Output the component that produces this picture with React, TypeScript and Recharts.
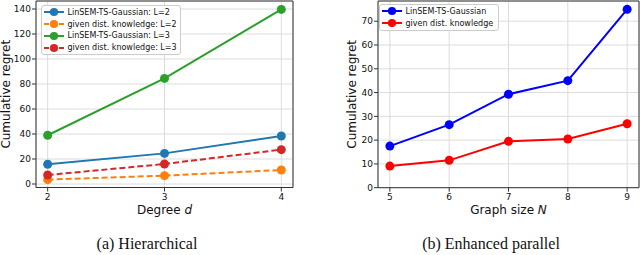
import {
  LineChart,
  Line,
  XAxis,
  YAxis,
  CartesianGrid,
  Legend,
  Label,
  ReferenceArea,
} from "recharts";

// (a) Hierarchical
const degrees = [2, 3, 4];
const linsemL2 = [15.8, 24.5, 38.4];
const givenL2 = [3.5, 6.7, 11.2];
const linsemL3 = [39, 84.5, 139.7];
const givenL3 = [7.2, 16, 27.5];
const leftYTicks = [0, 20, 40, 60, 80, 100, 120, 140];

// (b) Enhanced parallel
const graphSizes = [5, 6, 7, 8, 9];
const linsemParallel = [17.5, 26.5, 39.3, 45, 75];
const givenParallel = [9.1, 11.5, 19.5, 20.5, 26.9];
const rightYTicks = [0, 10, 20, 30, 40, 50, 60, 70];

const FONT = "DejaVu Sans, sans-serif";
const GRID = "#dcdcdc";
const FRAME = "#333";

type Series = { key: string; name: string; color: string; dashed: boolean };

const leftSeries: Series[] = [
  { key: "linsemL2", name: "LinSEM-TS-Gaussian: L=2", color: "#1f77b4", dashed: false },
  { key: "givenL2", name: "given dist. knowledge: L=2", color: "#ff7f0e", dashed: true },
  { key: "linsemL3", name: "LinSEM-TS-Gaussian: L=3", color: "#2ca02c", dashed: false },
  { key: "givenL3", name: "given dist. knowledge: L=3", color: "#d62728", dashed: true },
];

const rightSeries: Series[] = [
  { key: "linsem", name: "LinSEM-TS-Gaussian", color: "#0000ff", dashed: false },
  { key: "given", name: "given dist. knowledge", color: "#ff0000", dashed: false },
];

const leftData = degrees.map((d, i) => ({
  x: d,
  linsemL2: linsemL2[i],
  givenL2: givenL2[i],
  linsemL3: linsemL3[i],
  givenL3: givenL3[i],
}));

const rightData = graphSizes.map((n, i) => ({
  x: n,
  linsem: linsemParallel[i],
  given: givenParallel[i],
}));

function LegendBox({ series, width }: { series: Series[]; width: number }) {
  return (
    <div
      style={{
        width,
        boxSizing: "border-box",
        background: "rgba(255,255,255,0.85)",
        border: "1px solid #cccccc",
        borderRadius: 3,
        padding: "0.5px 0 0.5px 1.5px",
        fontFamily: FONT,
        fontSize: 8,
        color: "#111",
      }}
    >
      {series.map((s) => (
        <div
          key={s.key}
          style={{ display: "flex", alignItems: "center", height: 11.9 }}
        >
          <svg width={20} height={10} style={{ marginRight: 4 }}>
            <line
              x1={0}
              y1={5}
              x2={20}
              y2={5}
              stroke={s.color}
              strokeWidth={2}
              strokeDasharray={s.dashed ? "5 2.5" : undefined}
            />
            <circle cx={10} cy={5} r={4.1} fill={s.color} />
          </svg>
          <span>{s.name}</span>
        </div>
      ))}
    </div>
  );
}

function yLabel(x: number) {
  return (props: any) => {
    const vb = props.viewBox;
    const cy = vb.y + vb.height / 2;
    return (
      <text
        x={x}
        y={cy}
        transform={`rotate(-90, ${x}, ${cy})`}
        textAnchor="middle"
        dominantBaseline="central"
        fontFamily={FONT}
        fontSize={12}
        fill="#111"
      >
        Cumulative regret
      </text>
    );
  };
}

function xLabel(main: string, italic: string) {
  return (props: any) => {
    const vb = props.viewBox;
    return (
      <text
        x={vb.x + vb.width / 2}
        y={214}
        textAnchor="middle"
        fontFamily={FONT}
        fontSize={12}
        fill="#111"
      >
        {main} <tspan fontStyle="italic">{italic}</tspan>
      </text>
    );
  };
}

const tickStyle = { fill: "#111", fontSize: 9, fontFamily: FONT };

export default function App() {
  return (
    <div style={{ position: "absolute", left: 0, top: 0, width: 640, height: 255, background: "#fff" }}>
      <div style={{ position: "absolute", left: 0, top: 0 }}>
        <LineChart
          width={320}
          height={255}
          data={leftData}
          margin={{ top: 1, right: 27, left: 0, bottom: 0 }}
        >
          <CartesianGrid stroke={GRID} strokeWidth={1} />
          <XAxis
            dataKey="x"
            type="number"
            domain={[1.9, 4.1]}
            ticks={degrees}
            allowDataOverflow
            height={67.5}
            axisLine={false}
            tickSize={4}
            tickMargin={2}
            tickLine={{ stroke: FRAME }}
            tick={tickStyle}
          >
            <Label content={xLabel("Degree", "d")} />
          </XAxis>
          <YAxis
            type="number"
            domain={[-2.8, 146.4]}
            ticks={leftYTicks}
            allowDataOverflow
            width={36}
            axisLine={false}
            tickSize={4}
            tickMargin={1}
            tickLine={{ stroke: FRAME }}
            tick={tickStyle}
          >
            <Label content={yLabel(6)} />
          </YAxis>
          {leftSeries.map((s) => (
            <Line
              key={s.key}
              dataKey={s.key}
              name={s.name}
              type="linear"
              stroke={s.color}
              strokeWidth={2}
              strokeDasharray={s.dashed ? "6 3" : undefined}
              dot={{ r: 4.5, fill: s.color, stroke: "none", strokeDasharray: "" }}
              isAnimationActive={false}
            />
          ))}
          <ReferenceArea
            x1={1.9}
            x2={4.1}
            y1={-2.8}
            y2={146.4}
            fill="none"
            stroke={FRAME}
            strokeWidth={1}
            ifOverflow="visible"
          />
          <Legend
            layout="vertical"
            align="center"
            verticalAlign="middle"
            wrapperStyle={{ left: 41, top: 4.7, width: 140 }}
            content={() => <LegendBox series={leftSeries} width={140} />}
          />
        </LineChart>
      </div>

      <div style={{ position: "absolute", left: 320, top: 0 }}>
        <LineChart
          width={320}
          height={255}
          data={rightData}
          margin={{ top: 1, right: 1, left: 0, bottom: 0 }}
        >
          <CartesianGrid stroke={GRID} strokeWidth={1} />
          <XAxis
            dataKey="x"
            type="number"
            domain={[4.8, 9.2]}
            ticks={graphSizes}
            allowDataOverflow
            height={67.3}
            axisLine={false}
            tickSize={4}
            tickMargin={2}
            tickLine={{ stroke: FRAME }}
            tick={tickStyle}
          >
            <Label content={xLabel("Graph size", "N")} />
          </XAxis>
          <YAxis
            type="number"
            domain={[0, 78.5]}
            ticks={rightYTicks}
            allowDataOverflow
            width={58}
            axisLine={false}
            tickSize={4}
            tickMargin={1}
            tickLine={{ stroke: FRAME }}
            tick={tickStyle}
          >
            <Label content={yLabel(32)} />
          </YAxis>
          {rightSeries.map((s) => (
            <Line
              key={s.key}
              dataKey={s.key}
              name={s.name}
              type="linear"
              stroke={s.color}
              strokeWidth={2}
              dot={{ r: 4.5, fill: s.color, stroke: "none" }}
              isAnimationActive={false}
            />
          ))}
          <ReferenceArea
            x1={4.8}
            x2={9.2}
            y1={0}
            y2={78.5}
            fill="none"
            stroke={FRAME}
            strokeWidth={1}
            ifOverflow="visible"
          />
          <Legend
            layout="vertical"
            align="center"
            verticalAlign="middle"
            wrapperStyle={{ left: 59, top: 4, width: 120 }}
            content={() => <LegendBox series={rightSeries} width={120} />}
          />
        </LineChart>
      </div>

      <div
        style={{
          position: "absolute",
          left: 0,
          width: 294,
          top: 235,
          textAlign: "center",
          fontFamily: "Liberation Serif, serif",
          fontSize: 16,
          color: "#111",
        }}
      >
        (a) Hierarchical
      </div>
      <div
        style={{
          position: "absolute",
          left: 342,
          width: 298,
          top: 235,
          textAlign: "center",
          fontFamily: "Liberation Serif, serif",
          fontSize: 16,
          color: "#111",
        }}
      >
        (b) Enhanced parallel
      </div>
    </div>
  );
}
